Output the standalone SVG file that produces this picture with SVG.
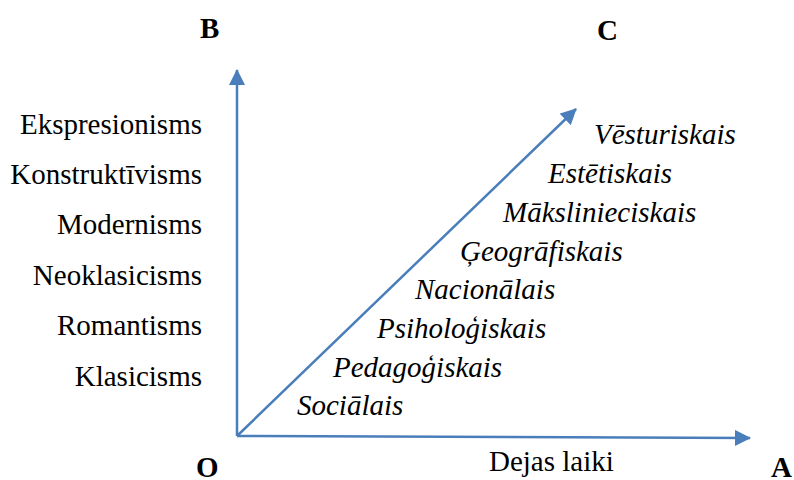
<svg xmlns="http://www.w3.org/2000/svg" width="794" height="480" viewBox="0 0 794 480">
<style>
.ax{stroke:#4a7ebb;stroke-width:2.5;fill:none}
.l{text-anchor:end}
</style>
<defs>
<marker id="ah" markerUnits="userSpaceOnUse" markerWidth="16" markerHeight="16" viewBox="0 0 16 16" refX="15" refY="8" orient="auto">
<path d="M0,0 L16,8 L0,16 Z" fill="#4a7ebb"/>
</marker>
</defs>
<g id="connectors">
<line class="ax" x1="237" y1="436" x2="237" y2="70" marker-end="url(#ah)"/>
<line class="ax" x1="237" y1="436" x2="750" y2="438" marker-end="url(#ah)"/>
<line class="ax" x1="237" y1="436" x2="576" y2="109" marker-end="url(#ah)"/>
</g>
<g id="axis-labels" font-family="Liberation Serif, serif" font-size="29" font-weight="bold">
<text id="B" x="200" y="38">B</text>
<text id="C" x="597" y="40">C</text>
<text id="O" x="196" y="477">O</text>
<text id="A" x="771" y="477">A</text>
</g>
<g id="A-label" font-family="Liberation Serif, serif" font-size="29"><text x="489" y="471">Dejas laiki</text></g>
<g id="B-items" class="l" font-family="Liberation Serif, serif" font-size="29">
<text x="202" y="134">Ekspresionisms</text>
<text x="202" y="184">Konstruktīvisms</text>
<text x="202" y="234">Modernisms</text>
<text x="202" y="285">Neoklasicisms</text>
<text x="202" y="335">Romantisms</text>
<text x="202" y="386">Klasicisms</text>
</g>
<g id="C-items" font-family="Liberation Serif, serif" font-size="29" font-style="italic">
<text x="594" y="144">Vēsturiskais</text>
<text x="548" y="183">Estētiskais</text>
<text x="503" y="222">Mākslinieciskais</text>
<text x="460" y="261">Ģeogrāfiskais</text>
<text x="415" y="299">Nacionālais</text>
<text x="377" y="338">Psiholoģiskais</text>
<text x="333" y="377">Pedagoģiskais</text>
<text x="297" y="415">Sociālais</text>
</g>
</svg>
